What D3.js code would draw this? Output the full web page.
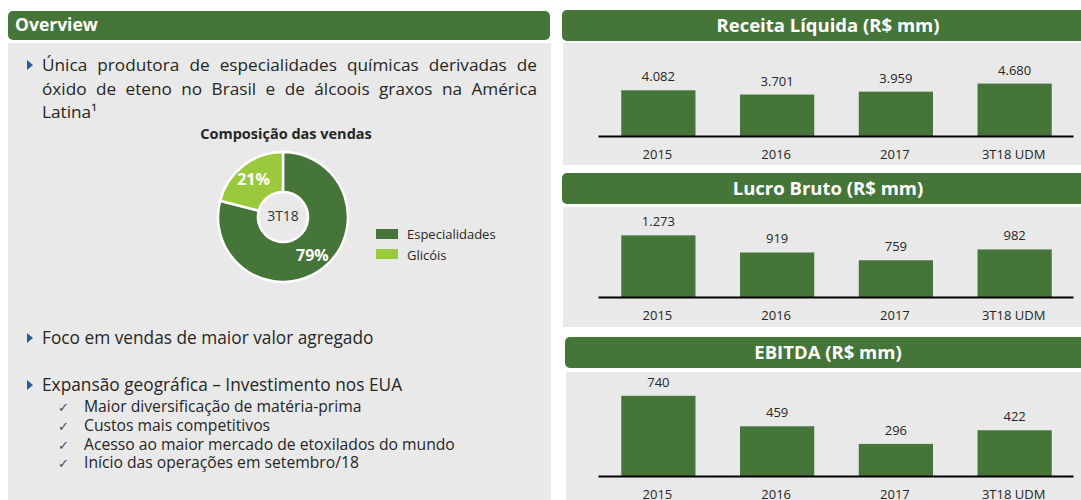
<!DOCTYPE html>
<html>
<head>
<meta charset="utf-8">
<script src="https://cdn.jsdelivr.net/npm/d3@7"></script>
<style>
  body { margin: 0; background: #fff; }
  svg { display: block; font-family: "Open Sans", sans-serif; }
</style>
</head>
<body>
<svg id="chart"></svg>
<script>
const width = 1081, height = 500;

// data
const categories = ["2015", "2016", "2017", "3T18 UDM"];
const receita = [4082, 3701, 3959, 4680];
const lucro = [1273, 919, 759, 982];
const ebitda = [740, 459, 296, 422];
const mixLabels = ["Especialidades", "Glicóis"];
const mixValues = [79, 21];
const introLines = [
    "Única produtora de especialidades químicas derivadas de",
    "óxido de eteno no Brasil e de álcoois graxos na América",
    "Latina¹"
];
const bullets = ["Foco em vendas de maior valor agregado", "Expansão geográfica – Investimento nos EUA"];
const subBullets = [
    "Maior diversificação de matéria-prima",
    "Custos mais competitivos",
    "Acesso ao maior mercado de etoxilados do mundo",
    "Início das operações em setembro/18"
];

const green = "#46753a", lightGreen = "#9bc93c", panel = "#e9e9e9", ink = "#262626", blue = "#2e5b95";

const svg = d3.select("#chart")
    .attr("width", width)
    .attr("height", height);

const br = d3.formatLocale({ decimal: ",", thousands: ".", grouping: [3], currency: ["R$", ""] });
const fmt = br.format(",d");

// ---------- left panel ----------
svg.append("rect").attr("x", 8).attr("y", 43).attr("width", 543).attr("height", 460).attr("fill", panel);
svg.append("rect").attr("x", 8).attr("y", 11).attr("width", 542).attr("height", 29).attr("rx", 5).attr("fill", green);
svg.append("text").attr("x", 15).attr("y", 31).attr("fill", "#fff")
    .attr("font-size", 17.5).attr("font-weight", 700).text("Overview");

function bullet(y) {
    svg.append("path")
        .attr("d", `M27,${y - 11}L33,${y - 6}L27,${y - 1}Z`)
        .attr("fill", blue);
}

// justified intro paragraph
const introBase = [71, 94.5, 118];
bullet(introBase[0]);
introLines.forEach((line, i) => {
    const t = svg.append("text").attr("x", 42).attr("y", introBase[i])
        .attr("font-size", 17.2).attr("fill", ink).text(line);
    if (i < introLines.length - 1) {
        const natural = t.node().getComputedTextLength();
        const gaps = line.split(" ").length - 1;
        t.style("word-spacing", ((495 - natural) / gaps) + "px");
    }
});

const bulletBase = [344, 391];
bullets.forEach((b, i) => {
    bullet(bulletBase[i]);
    svg.append("text").attr("x", 42).attr("y", bulletBase[i])
        .attr("font-size", 17.3).attr("fill", ink).text(b);
});

const subBase = [412, 431, 449.5, 468];
subBullets.forEach((s, i) => {
    svg.append("text").attr("x", 58).attr("y", subBase[i])
        .attr("font-family", "DejaVu Sans").attr("font-size", 13).attr("fill", "#3b4a66").text("✓");
    svg.append("text").attr("x", 84).attr("y", subBase[i])
        .attr("font-size", 15.7).attr("fill", ink).text(s);
});

// ---------- donut ----------
const cx = 283, cy = 217;
svg.append("text").attr("x", 286).attr("y", 139).attr("text-anchor", "middle")
    .attr("font-size", 14.5).attr("font-weight", 700).attr("fill", ink).text("Composição das vendas");

const pie = d3.pie().sort(null).value(d => d);
const arc = d3.arc().innerRadius(25).outerRadius(65);
const labelArc = d3.arc().innerRadius(48).outerRadius(48);
const colors = [green, lightGreen];
const slices = pie(mixValues);
const g = svg.append("g").attr("transform", `translate(${cx},${cy})`);
g.selectAll("path").data(slices).join("path")
    .attr("d", arc)
    .attr("fill", (d, i) => colors[i])
    .attr("stroke", "#fff").attr("stroke-width", 2.5);
g.selectAll("text.pct").data(slices).join("text")
    .attr("class", "pct")
    .attr("transform", d => `translate(${labelArc.centroid(d)})`)
    .attr("text-anchor", "middle").attr("dy", "0.36em")
    .attr("font-size", 16).attr("font-weight", 700).attr("fill", "#fff")
    .text(d => d.data + "%");
g.append("text").attr("text-anchor", "middle").attr("y", 4)
    .attr("font-size", 14).attr("fill", "#333").text("3T18");

mixLabels.forEach((l, i) => {
    svg.append("rect").attr("x", 376).attr("y", 229 + i * 20).attr("width", 22).attr("height", 10).attr("fill", colors[i]);
    svg.append("text").attr("x", 407).attr("y", 239 + i * 20.5)
        .attr("font-size", 13).attr("fill", ink).text(l);
});

// ---------- bar panels ----------
const panels = [
    { title: "Receita Líquida (R$ mm)", values: receita, x0: 562, head: 10, body: 43, bottom: 165, base: 136, yMax: 5000, h: 56 },
    { title: "Lucro Bruto (R$ mm)", values: lucro, x0: 562, head: 173, body: 207, bottom: 327, base: 297, yMax: 1400, h: 67.8 },
    { title: "EBITDA (R$ mm)", values: ebitda, x0: 565, head: 337, body: 372, bottom: 503, base: 476, yMax: 800, h: 86.7 }
];

const x = d3.scaleBand()
    .domain(categories)
    .range([598, 1073])
    .paddingInner(0.375)
    .paddingOuter(0.1875);

panels.forEach(p => {
    svg.append("rect").attr("x", p.x0 + 1).attr("y", p.body).attr("width", width - p.x0).attr("height", p.bottom - p.body).attr("fill", panel);
    svg.append("rect").attr("x", p.x0).attr("y", p.head).attr("width", 532).attr("height", 31).attr("rx", 5).attr("fill", green);
    svg.append("text").attr("x", 828).attr("y", p.head + 22).attr("text-anchor", "middle")
        .attr("font-size", 18.5).attr("font-weight", 700).attr("fill", "#fff").text(p.title);

    const y = d3.scaleLinear().domain([0, p.yMax]).range([p.base, p.base - p.h]);
    const data = categories.map((c, i) => ({ c, v: p.values[i] }));

    svg.append("g").selectAll("rect").data(data).join("rect")
        .attr("x", d => x(d.c) + 1)
        .attr("y", d => y(d.v))
        .attr("width", x.bandwidth())
        .attr("height", d => p.base - y(d.v))
        .attr("fill", green);

    svg.append("g").selectAll("text").data(data).join("text")
        .attr("x", d => x(d.c) + x.bandwidth() / 2 + 1)
        .attr("y", d => y(d.v) - 9)
        .attr("text-anchor", "middle")
        .attr("font-size", 13).attr("fill", ink)
        .text(d => fmt(d.v));

    const axis = svg.append("g")
        .attr("transform", `translate(0,${p.base})`)
        .call(d3.axisBottom(x).tickSize(0).tickSizeOuter(0).tickPadding(14));
    axis.select(".domain").attr("stroke", "#000").attr("stroke-width", 2);
    axis.selectAll("text").attr("font-size", 13).attr("fill", ink).attr("font-family", "Open Sans");
});
</script>
</body>
</html>
